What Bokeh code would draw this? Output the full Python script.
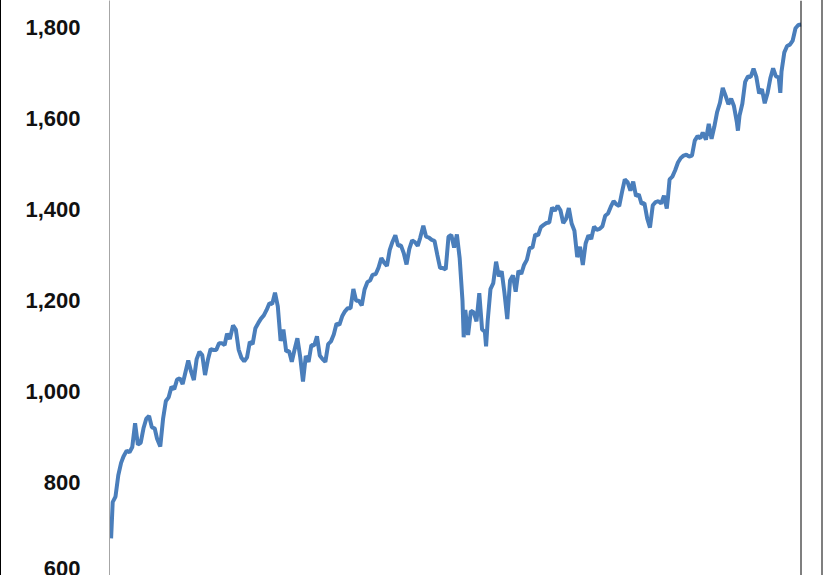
import pandas as pd
from bokeh.plotting import figure
from bokeh.models import Span, NumeralTickFormatter, FixedTicker, Range1d
from bokeh.embed import file_html
from bokeh.resources import INLINE

dates = [
    "2009-03-09","2009-03-13","2009-03-20","2009-03-27","2009-04-03","2009-04-09","2009-04-17","2009-04-24",
    "2009-05-01","2009-05-08","2009-05-15","2009-05-22","2009-05-29","2009-06-05","2009-06-12","2009-06-19",
    "2009-06-26","2009-07-02","2009-07-10","2009-07-17","2009-07-24","2009-07-31","2009-08-07","2009-08-14",
    "2009-08-21","2009-08-28","2009-09-04","2009-09-11","2009-09-18","2009-09-25","2009-10-02","2009-10-09",
    "2009-10-16","2009-10-23","2009-10-30","2009-11-06","2009-11-13","2009-11-20","2009-11-27","2009-12-04",
    "2009-12-11","2009-12-18","2009-12-24","2009-12-31",
    "2010-01-08","2010-01-15","2010-01-22","2010-01-29","2010-02-05","2010-02-12","2010-02-19","2010-02-26",
    "2010-03-05","2010-03-12","2010-03-19","2010-03-26","2010-04-02","2010-04-09","2010-04-16","2010-04-23",
    "2010-04-30","2010-05-07","2010-05-14","2010-05-21","2010-05-28","2010-06-04","2010-06-11","2010-06-18",
    "2010-06-25","2010-07-02","2010-07-09","2010-07-16","2010-07-23","2010-07-30","2010-08-06","2010-08-13",
    "2010-08-20","2010-08-27","2010-09-03","2010-09-10","2010-09-17","2010-09-24","2010-10-01","2010-10-08",
    "2010-10-15","2010-10-22","2010-10-29","2010-11-05","2010-11-12","2010-11-19","2010-11-26","2010-12-03",
    "2010-12-10","2010-12-17","2010-12-23","2010-12-31",
    "2011-01-07","2011-01-14","2011-01-21","2011-01-28","2011-02-04","2011-02-11","2011-02-18","2011-02-25",
    "2011-03-04","2011-03-11","2011-03-18","2011-03-25","2011-04-01","2011-04-08","2011-04-15","2011-04-21",
    "2011-04-29","2011-05-06","2011-05-13","2011-05-20","2011-05-27","2011-06-03","2011-06-10","2011-06-17",
    "2011-06-24","2011-07-01","2011-07-08","2011-07-15","2011-07-22","2011-07-29","2011-08-05","2011-08-08",
    "2011-08-12","2011-08-19","2011-08-26","2011-09-02","2011-09-09","2011-09-16","2011-09-23","2011-09-30",
    "2011-10-03","2011-10-07","2011-10-14","2011-10-21","2011-10-28","2011-11-04","2011-11-11","2011-11-18",
    "2011-11-25","2011-12-02","2011-12-09","2011-12-16","2011-12-23","2011-12-30",
    "2012-01-06","2012-01-13","2012-01-20","2012-01-27","2012-02-03","2012-02-10","2012-02-17","2012-02-24",
    "2012-03-02","2012-03-09","2012-03-16","2012-03-23","2012-03-30","2012-04-06","2012-04-13","2012-04-20",
    "2012-04-27","2012-05-04","2012-05-11","2012-05-18","2012-05-25","2012-06-01","2012-06-08","2012-06-15",
    "2012-06-22","2012-06-29","2012-07-06","2012-07-13","2012-07-20","2012-07-27","2012-08-03","2012-08-10",
    "2012-08-17","2012-08-24","2012-08-31","2012-09-07","2012-09-14","2012-09-21","2012-09-28","2012-10-05",
    "2012-10-12","2012-10-19","2012-10-26","2012-11-02","2012-11-09","2012-11-16","2012-11-23","2012-11-30",
    "2012-12-07","2012-12-14","2012-12-21","2012-12-28","2012-12-31",
    "2013-01-04","2013-01-11","2013-01-18","2013-01-25","2013-02-01","2013-02-08","2013-02-15","2013-02-22",
    "2013-03-01","2013-03-08","2013-03-15","2013-03-22","2013-03-28","2013-04-05","2013-04-12","2013-04-19",
    "2013-04-26","2013-05-03","2013-05-10","2013-05-17","2013-05-24","2013-05-31","2013-06-07","2013-06-14",
    "2013-06-21","2013-06-24","2013-06-28","2013-07-05","2013-07-12","2013-07-19","2013-07-26","2013-08-02",
    "2013-08-09","2013-08-16","2013-08-23","2013-08-30","2013-09-06","2013-09-13","2013-09-20","2013-09-27",
    "2013-10-04","2013-10-08","2013-10-11","2013-10-18","2013-10-25","2013-11-01","2013-11-08","2013-11-15",
    "2013-11-22","2013-11-29",
]

values = [
    677, 757, 769, 816, 843, 857, 870, 866,
    878, 930, 883, 887, 919, 940, 946, 921,
    919, 896, 879, 940, 979, 987, 1010, 1005,
    1026, 1029, 1016, 1042, 1068, 1044, 1025, 1071,
    1087, 1080, 1036, 1069, 1093, 1091, 1091, 1106,
    1106, 1102, 1127, 1115,
    1145, 1136, 1092, 1074, 1066, 1075, 1109, 1104,
    1139, 1150, 1160, 1167, 1179, 1194, 1192, 1217,
    1187, 1111, 1136, 1088, 1089, 1065, 1092, 1117,
    1076, 1022, 1078, 1065, 1102, 1101, 1121, 1079,
    1071, 1065, 1104, 1110, 1125, 1149, 1146, 1165,
    1176, 1183, 1183, 1225, 1199, 1199, 1189, 1224,
    1240, 1244, 1256, 1258,
    1272, 1293, 1283, 1276, 1311, 1329, 1343, 1320,
    1321, 1304, 1279, 1313, 1332, 1328, 1320, 1337,
    1364, 1340, 1338, 1333, 1331, 1300, 1271, 1271,
    1268, 1340, 1344, 1316, 1345, 1292, 1199, 1119,
    1179, 1124, 1177, 1174, 1154, 1216, 1136, 1131,
    1099, 1155, 1225, 1238, 1285, 1253, 1264, 1216,
    1159, 1244, 1255, 1219, 1265, 1258,
    1278, 1289, 1315, 1316, 1345, 1343, 1361, 1366,
    1370, 1371, 1404, 1397, 1408, 1398, 1370, 1379,
    1403, 1369, 1353, 1295, 1318, 1278, 1325, 1343,
    1335, 1362, 1355, 1357, 1363, 1386, 1391, 1406,
    1418, 1411, 1407, 1438, 1466, 1460, 1441, 1461,
    1429, 1433, 1412, 1414, 1380, 1360, 1409, 1416,
    1418, 1413, 1430, 1402, 1426,
    1466, 1472, 1486, 1503, 1513, 1518, 1520, 1516,
    1518, 1551, 1561, 1556, 1569, 1553, 1588, 1555,
    1582, 1614, 1634, 1667, 1650, 1631, 1643, 1627,
    1593, 1573, 1606, 1632, 1680, 1692, 1691, 1709,
    1691, 1655, 1664, 1633, 1655, 1688, 1710, 1692,
    1690, 1656, 1703, 1745, 1759, 1762, 1771, 1798,
    1805, 1806,
]

y_ticks = [600, 800, 1000, 1200, 1400, 1600, 1800]

x = pd.to_datetime(dates)

p = figure(width=823, height=575, x_axis_type="datetime",
           output_backend="svg", toolbar_location=None,
           min_border_left=108, min_border_right=23,
           min_border_top=0, min_border_bottom=0)
p.x_range = Range1d(pd.Timestamp("2009-03-05"), pd.Timestamp("2013-11-30"))
p.y_range = Range1d(595.6, 1858.9)

p.line(x, values, line_color="#4a7ebb", line_width=4)

p.xaxis.visible = False
p.xgrid.visible = False
p.ygrid.visible = False
p.outline_line_color = None

ax = p.yaxis[0]
ax.ticker = FixedTicker(ticks=y_ticks)
ax.formatter = NumeralTickFormatter(format="0,0")
ax.major_tick_out = 0
ax.major_tick_in = 0
ax.minor_tick_out = 0
ax.minor_tick_in = 0
ax.axis_line_color = "#a6a6a6"
ax.axis_line_width = 1
ax.major_label_standoff = 29
ax.major_label_text_font = "Liberation Sans"
ax.major_label_text_font_style = "bold"
ax.major_label_text_font_size = "22px"
ax.major_label_text_color = "#111111"

p.add_layout(Span(location=pd.Timestamp("2013-11-30"), dimension="height",
                  line_color="black", line_width=2))

p.styles = {"border-right": "2px solid #7f7f7f", "border-left": "1px solid black",
            "box-sizing": "border-box"}

open("out.html", "w").write(file_html(p, INLINE))
